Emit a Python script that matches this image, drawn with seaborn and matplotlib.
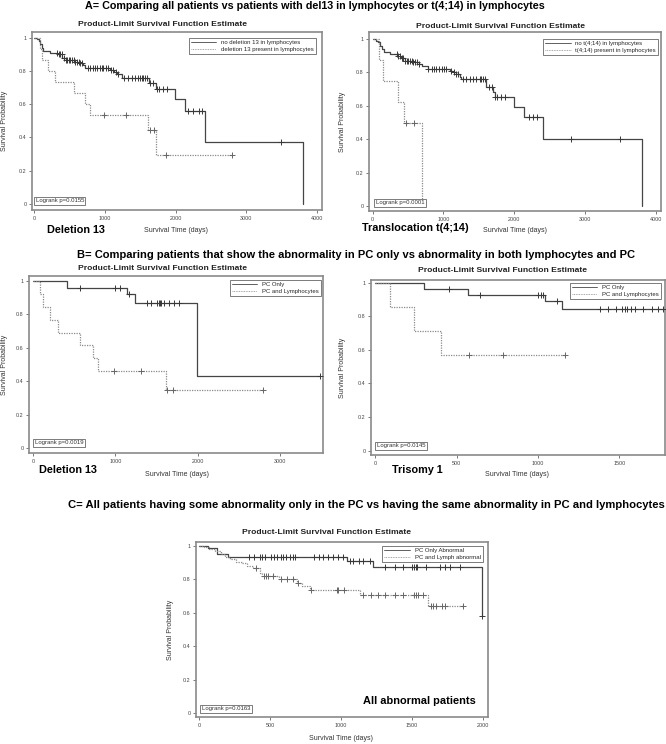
import numpy as np
import pandas as pd
import matplotlib
matplotlib.use('Agg')
import matplotlib.pyplot as plt
from matplotlib.lines import Line2D
import seaborn as sns

# ---------------- DATA ----------------
# Panel A left: Deletion 13
a1_no_t = [0, 40, 70, 90, 110, 130, 230, 330, 400, 450, 560, 640, 690, 724, 1076, 1130, 1180, 1240, 1630, 1720, 1993, 2134, 2416, 3803]
a1_no_s = [1.0, 0.99, 0.98, 0.96, 0.94, 0.92, 0.91, 0.90, 0.88, 0.865, 0.855, 0.845, 0.835, 0.82, 0.805, 0.795, 0.78, 0.76, 0.73, 0.69, 0.63, 0.56, 0.37, 0.0]
a1_no_c = [324, 348, 371, 395, 428, 451, 465, 489, 512, 536, 559, 583, 606, 630, 653, 677, 757, 794, 841, 865, 888, 926, 959, 982, 1020, 1053,
           1086, 1123, 1156, 1194, 1274, 1335, 1382, 1429, 1476, 1499, 1523, 1546, 1570, 1593, 1640, 1687, 1735, 1772, 1828, 1875,
           2172, 2251, 2336, 2369, 3497]
a1_yes_t = [0, 80, 110, 197, 300, 570, 724, 785, 1617, 1725, 2800]
a1_yes_s = [1.0, 0.933, 0.867, 0.80, 0.733, 0.667, 0.60, 0.533, 0.444, 0.296, 0.296]
a1_yes_c = [990, 1300, 1640, 1700, 1860, 2800]
a1_labels = ["no deletion 13 in lymphocytes", "deletion 13 present in lymphocytes"]
a1_p = "Logrank p=0.0155"

# Panel A right: Translocation t(4;14)
a2_no_t = [0, 40, 80, 100, 130, 160, 250, 350, 400, 450, 550, 650, 700, 780, 1090, 1136, 1180, 1230, 1254, 1606, 1700, 1723, 1995, 2131, 2404, 3798]
a2_no_s = [1.0, 0.99, 0.98, 0.96, 0.94, 0.92, 0.91, 0.90, 0.885, 0.87, 0.86, 0.85, 0.84, 0.82, 0.81, 0.80, 0.79, 0.775, 0.76, 0.71, 0.68, 0.65, 0.59, 0.53, 0.40, 0.0]
a2_no_c = [338, 362, 385, 408, 432, 455, 479, 502, 526, 549, 573, 596, 629, 657, 784, 831, 864, 901, 939, 972, 1005, 1042,
           1113, 1150, 1183, 1207, 1277, 1324, 1371, 1418, 1465, 1512, 1535, 1559, 1582, 1643, 1685, 1732, 1761, 1817, 1873,
           2202, 2263, 2319, 2798, 3493]
a2_yes_t = [0, 94, 150, 362, 441, 690]
a2_yes_s = [1.0, 0.875, 0.75, 0.625, 0.50, 0.0]
a2_yes_c = [465, 582]
a2_labels = ["no t(4;14) in lymphocytes", "t(4;14) present in lymphocytes"]
a2_p = "Logrank p=0.0001"

# Panel B left: Deletion 13
b1_pc_t = [0, 413, 1142, 1243, 1992, 3490]
b1_pc_s = [1.0, 0.96, 0.92, 0.87, 0.435, 0.435]
b1_pc_c = [575, 1000, 1053, 1162, 1385, 1433, 1506, 1526, 1538, 1550, 1587, 1648, 1709, 1769, 3490]
b1_ly_t = [0, 89, 117, 202, 300, 575, 725, 785, 1615, 2789]
b1_ly_s = [1.0, 0.923, 0.846, 0.769, 0.692, 0.615, 0.538, 0.462, 0.346, 0.346]
b1_ly_c = [988, 1312, 1628, 1700, 2789]
b_labels = ["PC Only", "PC and Lymphocytes"]
b1_p = "Logrank p=0.0019"

# Panel B right: Trisomy 1
b2_pc_t = [0, 298, 570, 1045, 1146, 1770]
b2_pc_s = [1.0, 0.964, 0.929, 0.889, 0.846, 0.846]
b2_pc_c = [453, 644, 1002, 1019, 1033, 1117, 1381, 1430, 1481, 1516, 1533, 1549, 1574, 1595, 1646, 1698, 1739, 1770]
b2_ly_t = [0, 93, 237, 407, 1163]
b2_ly_s = [1.0, 0.857, 0.714, 0.571, 0.571]
b2_ly_c = [576, 786, 1163]
b2_p = "Logrank p=0.0145"

# Panel C: all abnormal patients
c_pc_t = [0, 64, 125, 200, 1040, 1228, 1993]
c_pc_s = [1.0, 0.985, 0.95, 0.933, 0.91, 0.875, 0.58]
c_pc_c = [353, 386, 428, 445, 464, 506, 527, 546, 574, 593, 612, 640, 659, 675, 809, 847, 875, 911, 941, 981, 1016,
          1064, 1087, 1127, 1158, 1205, 1311, 1381, 1440, 1499, 1515, 1529, 1534, 1600, 1699, 1734, 1769, 1840, 1993]
c_ly_t = [0, 30, 70, 110, 150, 180, 220, 260, 300, 340, 380, 425, 445, 560, 687, 722, 781, 1134, 1616, 1864]
c_ly_s = [1.0, 0.99, 0.98, 0.97, 0.95, 0.935, 0.92, 0.905, 0.895, 0.88, 0.865, 0.84, 0.821, 0.801, 0.779, 0.757, 0.736, 0.706, 0.642, 0.642]
c_ly_c = [400, 456, 471, 487, 522, 576, 616, 664, 699, 788, 969, 981, 1021, 1158, 1209, 1259, 1311, 1381, 1435, 1515, 1529, 1546, 1581,
          1633, 1652, 1671, 1711, 1734, 1864]
c_labels = ["PC Only Abnormal", "PC and Lymph abnormal"]
c_p = "Logrank p=0.0163"

title_a = "A= Comparing all patients vs patients with del13 in lymphocytes or t(4;14) in lymphocytes"
title_b = "B= Comparing patients that show the abnormality in PC only vs abnormality in both lymphocytes and PC"
title_c = "C= All patients having some abnormality only in the PC vs having the same abnormality in PC and lymphocytes"
subtitle = "Product-Limit Survival Function Estimate"
xlab = "Survival Time (days)"
ylab = "Survival Probability"

# ---------------- STYLE ----------------
sns.set_theme(style='white')
plt.rcParams['font.family'] = ['Liberation Sans', 'DejaVu Sans']

SOLID = '#454545'
DOT = '#8a8a8a'
FRAME = '#8a8a8a'

W, H = 666, 744
fig = plt.figure(figsize=(W / 100, H / 100), dpi=100)
renderer = fig.canvas.get_renderer()


def fx(x):
    return x / W


def fy(y):
    return 1 - y / H


def add_ax(l, t, r, b):
    return fig.add_axes([fx(l), fy(b), (r - l) / W, (b - t) / H])


def surv_at(times, surv, t):
    idx = np.searchsorted(np.asarray(times), np.asarray(t), side='right') - 1
    return np.asarray(surv)[idx]


def fit_text(x, y, s, width, ha='left', va='center', weight='bold', size=7, color='black'):
    t = fig.text(fx(x), fy(y), s, ha=ha, va=va, fontweight=weight, fontsize=size, color=color)
    w = t.get_window_extent(renderer=renderer).width
    t.set_fontsize(size * width / w)
    return t


def panel(box, curves, labels, ptxt, xlim, ylim, xticks, leg_ur, lr_ll, ylab_x, xlab_xy, sub_xy):
    ax = add_ax(*box)
    styles = [dict(color=SOLID, linestyle='-'), dict(color=DOT, linestyle=(0, (1, 1)))]
    mcols = ['#383838', '#666666']
    handles = []
    for (times, surv, cens), lab, st, mc in zip(curves, labels, styles, mcols):
        df = pd.DataFrame({'t': times, 's': surv})
        sns.lineplot(data=df, x='t', y='s', drawstyle='steps-post', estimator=None, sort=False,
                     ax=ax, lw=0.9, legend=False, **st)
        cdf = pd.DataFrame({'t': cens, 's': surv_at(times, surv, cens)})
        sns.scatterplot(data=cdf, x='t', y='s', marker='+', s=20, color=mc, linewidth=0.7,
                        ax=ax, legend=False, zorder=3)
        handles.append(Line2D([], [], lw=0.6, label=lab, **st))
    ax.set_xlim(*xlim)
    ax.set_ylim(*ylim)
    ax.set_xticks(xticks)
    ax.set_xticklabels([str(v) for v in xticks])
    yt = [0, 0.2, 0.4, 0.6, 0.8, 1]
    ax.set_yticks(yt)
    ax.set_yticklabels(['0', '0.2', '0.4', '0.6', '0.8', '1'])
    ax.tick_params(axis='both', which='major', labelsize=3.9, length=2.5, width=0.5, pad=1.5,
                   colors='#444444', direction='out', bottom=True, left=True)
    ax.set_xlabel('')
    ax.set_ylabel('')
    for sp in ax.spines.values():
        sp.set_color(FRAME)
        sp.set_linewidth(1.2)
    leg = ax.legend(handles=handles, loc='upper right', bbox_to_anchor=(fx(leg_ur[0]), fy(leg_ur[1])),
                    bbox_transform=fig.transFigure, borderaxespad=0, fontsize=4.3, frameon=True,
                    fancybox=False, edgecolor='#666666', framealpha=1, handlelength=4.3,
                    borderpad=0.35, labelspacing=0.25, handletextpad=0.8)
    leg.get_frame().set_linewidth(0.6)
    fig.text(fx(lr_ll[0] + 1.6), fy(lr_ll[1] - 1.6), ptxt, ha='left', va='bottom', fontsize=4.3,
             color='#333333',
             bbox=dict(boxstyle='square,pad=0.25', fc='white', ec='#666666', lw=0.6))
    fig.text(fx(xlab_xy[0]), fy(xlab_xy[1]), xlab, ha='center', va='center', fontsize=5, color='#333333')
    fig.text(fx(ylab_x), fy((box[1] + box[3]) / 2), ylab, ha='center', va='center', rotation=90,
             fontsize=5, color='#333333')
    fit_text(sub_xy[0], sub_xy[1], subtitle, 168, ha='center', size=5.3, color='#222222')
    return ax


# ---------------- PANELS ----------------
panel((32, 32, 322, 210),
      [(a1_no_t, a1_no_s, a1_no_c), (a1_yes_t, a1_yes_s, a1_yes_c)], a1_labels, a1_p,
      (-28, 4070), (-0.036, 1.034), [0, 1000, 2000, 3000, 4000],
      (316, 38), (34, 205), 5, (176, 230), (162, 25))

panel((369, 32, 661, 211),
      [(a2_no_t, a2_no_s, a2_no_c), (a2_yes_t, a2_yes_s, a2_yes_c)], a2_labels, a2_p,
      (-52, 4072), (-0.03, 1.042), [0, 1000, 2000, 3000, 4000],
      (658, 39), (374, 207), 343, (515, 230), (501, 26))

panel((29, 276, 323, 453),
      [(b1_pc_t, b1_pc_s, b1_pc_c), (b1_ly_t, b1_ly_s, b1_ly_c)], b_labels, b1_p,
      (-49, 3524), (-0.028, 1.03), [0, 1000, 2000, 3000],
      (321, 280), (33, 447), 5, (177, 475), (162, 269))

panel((371, 280, 665, 455),
      [(b2_pc_t, b2_pc_s, b2_pc_c), (b2_ly_t, b2_ly_s, b2_ly_c)], b_labels, b2_p,
      (-25, 1780), (-0.026, 1.016), [0, 500, 1000, 1500],
      (661, 283), (375, 450), 342, (517, 475), (503, 271))

panel((196, 542, 488, 717),
      [(c_pc_t, c_pc_s, c_pc_c), (c_ly_t, c_ly_s, c_ly_c)], c_labels, c_p,
      (-23, 2037), (-0.022, 1.022), [0, 500, 1000, 1500, 2000],
      (483, 546), (200, 713), 171, (341, 739), (327, 533))

# ---------------- TITLES / LABELS ----------------
fit_text(85, 6, title_a, 462, size=7)
fit_text(77, 255, title_b, 553, size=7)
fit_text(68, 505, title_c, 595, size=7)

fit_text(47, 230, "Deletion 13", 58, size=8)
fit_text(362, 228, "Translocation t(4;14)", 107, size=8)
fit_text(39, 470, "Deletion 13", 58, size=8)
fit_text(392, 470, "Trisomy 1", 51, size=8)
fit_text(363, 701, "All abnormal patients", 112, size=8)

fig.savefig('out.png', dpi=100)
